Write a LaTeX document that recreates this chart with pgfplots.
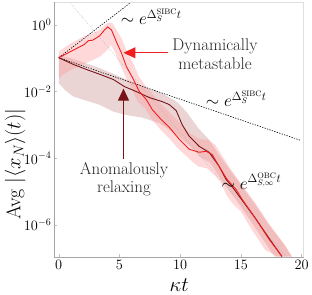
\documentclass[border=0pt]{standalone}
\usepackage{pgfplots}
\pgfplotsset{compat=1.18}
\usetikzlibrary{arrows.meta}
\definecolor{redline}{RGB}{240,30,30}
\definecolor{darkline}{RGB}{120,20,25}
\definecolor{redband}{RGB}{255,150,150}
\definecolor{darkband}{RGB}{215,170,170}
\begin{document}
\begin{tikzpicture}
\begin{axis}[
  at={(0,0)}, anchor=south west,
  scale only axis, width=250pt, height=256pt,
  xmin=-0.33, xmax=20.16, ymin=-6.955, ymax=0.687,
  xtick={0,5,10,15,20},
  ytick={-6,-4,-2,0},
  yticklabels={$10^{-6}$,$10^{-4}$,$10^{-2}$,$10^{0}$},
  ticklabel style={font=\fontsize{14}{16}\selectfont},
  tick align=inside, major tick length=2.5pt,
  tick style={gray!50, line width=0.4pt},
  xtick pos=bottom, ytick pos=left,
  axis line style={draw=none},
  xlabel={$\kappa t$},
  xlabel style={font=\fontsize{21}{24}\selectfont, at={(axis description cs:0.5,0)}, anchor=base, yshift=-35pt},
  clip=false,
]
% dark band
\addplot[fill=darkband, fill opacity=0.5, draw=none] coordinates {
(0,-0.9) (1,-1.0) (2,-1.12) (3.4,-1.3) (5,-1.55) (7.5,-1.92) (8.5,-2.05) (9.7,-2.3) (10.5,-2.6) (11.5,-3.1) (12.4,-3.45) (13.2,-3.9) (14.0,-4.3) (15,-4.8) (16.2,-5.4) (17.3,-6.0) (18.6,-6.6) (19.2,-6.95)
(17.8,-6.95) (17.3,-6.7) (16.2,-6.1) (15,-5.45) (14,-4.95) (13.3,-4.6) (12.5,-4.15) (11.6,-3.95) (11.0,-3.7) (9.9,-3.35) (8.3,-2.95) (6.9,-2.78) (5.5,-2.7) (4.5,-2.6) (3.4,-2.4) (2.5,-2.3) (1.2,-2.15) (0.5,-1.95) (0,-1.75)
} -- cycle;
% red band
\addplot[fill=redband, fill opacity=0.36, draw=none] coordinates {
(0,-0.8) (0.3,-0.72) (1.0,-0.55) (2.0,-0.36) (2.8,-0.25) (3.4,-0.14) (4.0,0.06) (4.4,0.07) (4.8,-0.18) (5.2,-0.42) (5.6,-0.78) (6.1,-1.12) (6.6,-1.55) (7.2,-1.85) (7.8,-2.1) (8.5,-2.4) (9.2,-2.65) (10,-2.95) (10.8,-3.25) (11.6,-3.42) (12.3,-3.45) (12.9,-3.6) (13.5,-3.95) (14.2,-4.35) (15.0,-4.75) (16.2,-5.35) (17.3,-5.95) (18.5,-6.55) (19.2,-6.95)
(18.0,-6.95) (17.0,-6.75) (16.0,-6.2) (15.0,-5.6) (14.3,-5.35) (13.8,-5.1) (13.3,-4.7) (12.8,-4.5) (12.2,-4.3) (11.5,-4.25) (11.0,-4.1) (10.4,-3.9) (9.8,-3.7) (9.1,-3.4) (8.4,-3.15) (7.7,-2.85) (7.1,-2.5) (6.5,-2.3) (6.0,-1.9) (5.5,-1.55) (5.0,-1.15) (4.6,-0.8) (4.3,-0.6) (4.0,-0.75) (3.4,-0.95) (2.0,-1.19) (1.0,-1.35) (0.3,-1.5) (0,-1.6)
} -- cycle;
% asymptotes
\addplot[gray!55, line width=0.6pt, dash pattern=on 0.6pt off 1.4pt] coordinates {(0.88,0.687) (18.73,-6.955)};
\addplot[black, line width=0.6pt, dash pattern=on 1.3pt off 1.3pt] coordinates {(0,-0.985) (5.98,0.687)};
\addplot[black, line width=0.6pt, dash pattern=on 1.3pt off 1.3pt] coordinates {(0,-0.985) (19.9,-3.46)};
% dark red curve (anomalously relaxing)
\addplot[darkline, line width=0.9pt] coordinates {
(0,-0.985) (1.23,-1.19) (2.30,-1.34) (3.44,-1.49) (4.51,-1.64) (5.41,-1.85) (6.39,-2.0) (7.46,-2.18) (8.52,-2.30) (9.10,-2.39) (9.67,-2.57) (10.16,-2.99) (10.74,-3.34) (11.56,-3.64) (12.38,-3.82) (13.2,-4.24) (13.77,-4.63) (14.26,-4.84) (14.84,-5.13) (16.23,-5.82) (17.30,-6.39) (18.38,-6.95)
};
% red curve (dynamically metastable)
\addplot[redline, line width=0.9pt] coordinates {
(0,-0.985) (1.23,-0.75) (2.05,-0.60) (2.46,-0.47) (2.79,-0.46) (3.36,-0.33) (3.77,-0.15) (4.02,-0.06) (4.34,-0.15) (4.75,-0.51) (5.16,-0.84) (5.57,-1.25) (6.07,-1.58) (6.64,-2.0) (7.21,-2.24) (7.70,-2.54) (8.44,-2.84) (9.10,-3.07) (9.92,-3.43) (10.74,-3.73) (11.56,-3.82) (12.13,-3.79) (12.62,-3.88) (13.2,-4.24) (13.85,-4.63) (14.59,-4.93) (15.08,-5.22) (16.23,-5.82) (17.30,-6.42) (18.36,-6.93)
};
% annotations
\draw[redline, line width=1pt, -{Triangle[length=12pt,width=11pt]}] (axis cs:9.02,-0.836) -- (axis cs:5.33,-0.836);
\draw[darkline, line width=1pt, -{Triangle[length=12pt,width=11pt]}] (axis cs:5.33,-4.03) -- (axis cs:5.33,-1.91);
\node[anchor=base west, font=\fontsize{16.5}{19}\selectfont, inner sep=0pt] at (axis cs:5.1,0.0) {$\sim e^{\Delta_S^{\mathrm{SIBC}}t}$};
\node[anchor=base west, font=\fontsize{16.5}{19}\selectfont, inner sep=0pt] at (axis cs:12.1,-2.45) {$\sim e^{\Delta_S^{\mathrm{SIBC}}t}$};
\node[anchor=base west, font=\fontsize{16.5}{19}\selectfont, inner sep=0pt] at (axis cs:13.4,-4.93) {$\sim e^{\Delta_{S,\infty}^{\mathrm{OBC}}t}$};
\node[align=center, font=\fontsize{17}{19.5}\selectfont, text=black!85, inner sep=0pt] at (axis cs:12.87,-0.87) {Dynamically\\metastable};
\node[align=center, font=\fontsize{17}{18.5}\selectfont, text=black!85, inner sep=0pt] at (axis cs:5.37,-4.63) {Anomalously\\relaxing};
\node[rotate=90, font=\fontsize{20}{24}\selectfont, inner sep=0pt] at (axis cs:-3.58,-4.18) {Avg $|\langle x_N\rangle(t)|$};
% frame
\draw[gray!25, line width=0.5pt] (rel axis cs:0,1) -- (rel axis cs:1,1) -- (rel axis cs:1,0);
\draw[gray!70, line width=0.6pt] (rel axis cs:0,1) -- (rel axis cs:0,0) -- (rel axis cs:1,0);
\end{axis}
\path[use as bounding box] (-55pt,-38pt) rectangle (257pt,258pt);
\end{tikzpicture}
\end{document}
